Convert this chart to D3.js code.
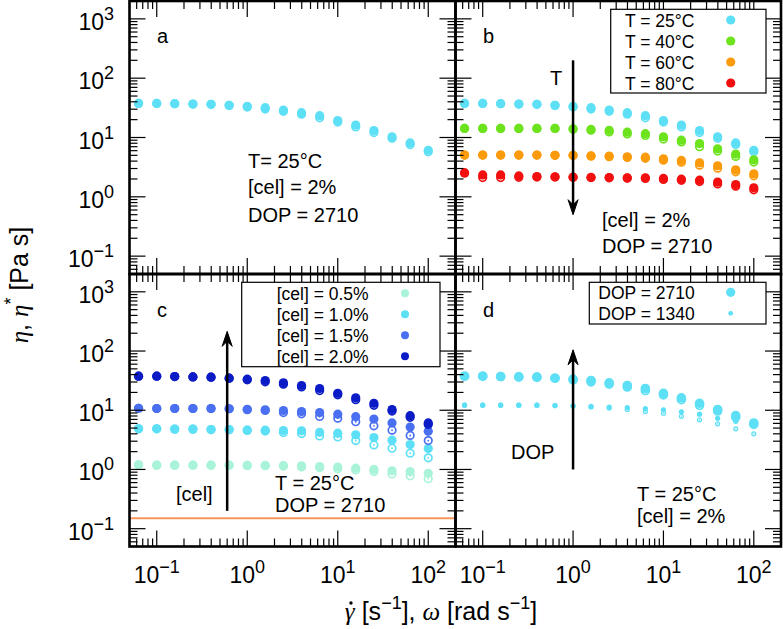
<!DOCTYPE html>
<html><head><meta charset="utf-8">
<script src="https://cdn.jsdelivr.net/npm/d3@7"></script>
<style>
body{margin:0;background:#fff}
text{font-family:"Liberation Sans",Arial,Helvetica,sans-serif;fill:#000}
.gk{font-family:"Liberation Serif","DejaVu Serif",serif;font-style:italic}
</style>
</head><body><svg id="chart" width="783" height="629"></svg>
<script>
// ---------- data ----------
const shearRate = [0.063, 0.1, 0.158, 0.251, 0.398, 0.631, 1, 1.58, 2.51, 3.98, 6.31, 10, 15.8, 25.1, 39.8, 63.1, 100];

// reference sample: T = 25 °C, [cel] = 2 %, DOP = 2710
const eta25     = [37.6, 37.6, 37.1, 36.6, 36.2, 34.8, 33.5, 31.8, 29.0, 26.2, 23.3, 19.3, 16.2, 13.1, 10.3, 8.1, 6.1];
const etaStar25 = [37.6, 37.6, 37.1, 36.6, 36.2, 34.8, 32.6, 30.2, 27.6, 24.7, 21.5, 18.2, 15.1, 12.1, 9.7, 7.6, 5.75];
const eta40     = [14.2, 14.2, 14.2, 14.2, 14.2, 14.2, 14.0, 13.7, 13.2, 12.3, 11.6, 10.3, 9.0, 7.9, 6.45, 5.25, 4.2];
const etaStar40 = [14.2, 14.2, 14.2, 14.2, 14.2, 14.2, 13.8, 13.3, 12.4, 11.5, 10.8, 9.4, 8.4, 7.0, 5.9, 4.8, 3.85];
const eta60     = [5.05, 5.05, 5.05, 5.05, 5.05, 5.0, 5.0, 4.92, 4.86, 4.72, 4.66, 4.37, 4.10, 3.74, 3.33, 2.85, 2.44];
const etaStar60 = [5.05, 5.05, 5.05, 5.05, 5.05, 5.0, 4.95, 4.85, 4.75, 4.6, 4.45, 4.15, 3.84, 3.42, 3.04, 2.64, 2.26];
const eta80     = [2.53, 2.34, 2.34, 2.25, 2.2, 2.18, 2.14, 2.12, 2.11, 2.09, 2.09, 2.04, 1.98, 1.91, 1.77, 1.61, 1.42];
const etaStar80 = [2.53, 2.11, 2.11, 2.13, 2.15, 2.15, 2.13, 2.11, 2.09, 2.06, 2.04, 1.96, 1.9, 1.81, 1.65, 1.51, 1.31];

const etaCel05     = [1.2, 1.18, 1.18, 1.18, 1.18, 1.18, 1.17, 1.17, 1.16, 1.15, 1.12, 1.1, 1.05, 1.0, 0.95, 0.92, 0.86];
const etaStarCel05 = [1.2, 1.18, 1.18, 1.18, 1.18, 1.18, 1.17, 1.16, 1.14, 1.1, 1.07, 1.03, 0.98, 0.92, 0.84, 0.78, 0.70];
const etaCel10     = [4.85, 4.85, 4.8, 4.8, 4.72, 4.72, 4.65, 4.6, 4.55, 4.5, 4.25, 4.1, 3.84, 3.45, 3.12, 2.63, 2.25];
const etaStarCel10 = [4.85, 4.85, 4.8, 4.8, 4.72, 4.7, 4.55, 4.45, 4.2, 4.04, 3.69, 3.55, 3.07, 2.6, 2.28, 1.88, 1.57];
const etaCel15     = [10.8, 10.7, 10.7, 10.7, 10.7, 10.6, 10.4, 10.2, 9.9, 9.5, 9.15, 8.6, 7.8, 7.1, 6.1, 5.2, 4.4];
const etaStarCel15 = [10.8, 10.7, 10.7, 10.7, 10.7, 10.6, 10.2, 9.9, 9.15, 8.7, 7.85, 7.35, 6.4, 5.45, 4.6, 3.75, 3.07];

const etaDop1340     = [12.2, 12.2, 12.2, 12.2, 12.2, 12.0, 11.9, 11.6, 11.3, 11.1, 10.7, 10.2, 9.4, 8.6, 7.3, 6.5, 5.6];
const etaStarDop1340 = [12.2, 12.2, 12.2, 12.2, 12.2, 12.0, 11.8, 11.4, 10.9, 10.3, 9.5, 8.9, 7.9, 6.9, 5.9, 4.85, 4.0];

const solventLine = 0.15;

const tempLabels = ["T = 25°C", "T = 40°C", "T = 60°C", "T = 80°C"];
const celLabels  = ["[cel] = 0.5%", "[cel] = 1.0%", "[cel] = 1.5%", "[cel] = 2.0%"];
const dopLabels  = ["DOP = 2710", "DOP = 1340"];
const decadeExponents = ["−1", "0", "1", "2", "3"];
const xTickValues = [0.1, 1, 10, 100];
const yTickValues = [1000, 100, 10, 1, 0.1];

// ---------- styling ----------
const C = {cyan:"#5de0f6", green:"#6ce31c", orange:"#fb9b0b", red:"#f10f0f",
           mint:"#a9f3d9", blue:"#4a6ff0", navy:"#0b1cc6", sol:"#f7965c"};

const svg = d3.select("#chart");
const panels = {
  a:{x0:129.5, x1:455.5, y0:1,   y1:274},
  b:{x0:455.5, x1:781,   y0:1,   y1:274},
  c:{x0:129.5, x1:455.5, y0:274, y1:546.5},
  d:{x0:455.5, x1:781,   y0:274, y1:546.5}
};
const xDomain = [0.05, 200], yDomain = [0.05, 2000];
function mk(p){
  return {x:d3.scaleLog().domain(xDomain).range([p.x0,p.x1]),
          y:d3.scaleLog().domain(yDomain).range([p.y1,p.y0])};
}
const S = {}; for (const k in panels) S[k] = mk(panels[k]);
const isMajor = t => Math.abs(Math.log10(t) - Math.round(Math.log10(t))) < 1e-6;

function drawFrameTicks(p, sc){
  const g = svg.append("g");
  sc.x.ticks().forEach(t=>{
    const L = isMajor(t)?16:8, X = sc.x(t);
    g.append("line").attr("x1",X).attr("x2",X).attr("y1",p.y1).attr("y2",p.y1-L);
    g.append("line").attr("x1",X).attr("x2",X).attr("y1",p.y0).attr("y2",p.y0+L);
  });
  sc.y.ticks().forEach(t=>{
    const L = isMajor(t)?16:8, Y = sc.y(t);
    g.append("line").attr("y1",Y).attr("y2",Y).attr("x1",p.x0).attr("x2",p.x0+L);
    g.append("line").attr("y1",Y).attr("y2",Y).attr("x1",p.x1).attr("x2",p.x1-L);
  });
  g.selectAll("line").attr("stroke","#000").attr("stroke-width",1.2);
}

function drawSeries(sc, eta, etaStar, color, r, sw){
  const g = svg.append("g");
  g.selectAll(".ring").data(etaStar).join("circle")
    .attr("cx",(d,i)=>sc.x(shearRate[i])).attr("cy",d=>sc.y(d))
    .attr("r",r-sw/2).attr("fill","none").attr("stroke",color).attr("stroke-width",sw);
  g.selectAll(".dot").data(etaStar).join("circle")
    .attr("cx",(d,i)=>sc.x(shearRate[i])).attr("cy",d=>sc.y(d))
    .attr("r",Math.max(0.7,r*0.2)).attr("fill",color);
  g.selectAll(".fill").data(eta).join("circle")
    .attr("cx",(d,i)=>sc.x(shearRate[i])).attr("cy",d=>sc.y(d))
    .attr("r",r).attr("fill",color);
}

function arrow(sc, xv, fromV, toV){
  const X = sc.x(xv), Y0 = sc.y(fromV), Y1 = sc.y(toV);
  const dir = Y1 > Y0 ? 1 : -1;
  svg.append("line").attr("x1",X).attr("x2",X).attr("y1",Y0).attr("y2",Y1-dir*6)
    .attr("stroke","#000").attr("stroke-width",2.5);
  svg.append("path")
    .attr("d",`M${X},${Y1} L${X-5},${Y1-dir*15} L${X},${Y1-dir*10} L${X+5},${Y1-dir*15} Z`)
    .attr("fill","#000").attr("stroke","#000").attr("stroke-width",1);
}

function txt(x,y,s,size){
  svg.append("text").attr("x",x).attr("y",y).attr("font-size",size||20).text(s);
}

function legend(x0,y0,w,h,tx,mx,rows,labels,colors,radii){
  svg.append("rect").attr("x",x0).attr("y",y0).attr("width",w).attr("height",h)
    .attr("fill","#fff").attr("stroke","#000").attr("stroke-width",1.2);
  labels.forEach((l,i)=>{
    svg.append("text").attr("x",tx).attr("y",rows[i]+6.5).attr("font-size",17.5).text(l);
    svg.append("circle").attr("cx",mx).attr("cy",rows[i]).attr("r",radii[i]).attr("fill",colors[i]);
  });
}

// solvent line (under everything in panel c)
svg.append("line").attr("x1",panels.c.x0).attr("x2",panels.c.x1)
  .attr("y1",S.c.y(solventLine)).attr("y2",S.c.y(solventLine))
  .attr("stroke",C.sol).attr("stroke-width",2.2);

// ---------- data marks ----------
drawSeries(S.a, eta25, etaStar25, C.cyan, 4.6, 1.7);

drawSeries(S.b, eta25, etaStar25, C.cyan, 4.6, 1.7);
drawSeries(S.b, eta40, etaStar40, C.green, 4.6, 1.7);
drawSeries(S.b, eta60, etaStar60, C.orange, 4.6, 1.7);
drawSeries(S.b, eta80, etaStar80, C.red, 4.6, 1.7);

drawSeries(S.c, etaCel05, etaStarCel05, C.mint, 4.6, 1.7);
drawSeries(S.c, etaCel10, etaStarCel10, C.cyan, 4.6, 1.7);
drawSeries(S.c, etaCel15, etaStarCel15, C.blue, 4.6, 1.7);
drawSeries(S.c, eta25, etaStar25, C.navy, 4.6, 1.7);

drawSeries(S.d, eta25, etaStar25, C.cyan, 4.8, 1.7);
drawSeries(S.d, etaDop1340, etaStarDop1340, C.cyan, 2.6, 1.2);

// ---------- arrows ----------
arrow(S.b, 1, 200, 0.5);
arrow(S.c, 0.6, 0.2, 215);
arrow(S.d, 1, 1, 105);

// ---------- frames & ticks ----------
for (const k in panels){
  const p = panels[k];
  drawFrameTicks(p, S[k]);
}
for (const k in panels){
  const p = panels[k];
  svg.append("rect").attr("x",p.x0).attr("y",p.y0).attr("width",p.x1-p.x0).attr("height",p.y1-p.y0)
    .attr("fill","none").attr("stroke","#000").attr("stroke-width",2.6);
}

// ---------- legends ----------
legend(610.7, 9.3, 155.3, 83.7, 625, 730.7, [20,41,62,83], tempLabels,
       [C.cyan,C.green,C.orange,C.red],[4.6,4.6,4.6,4.6]);
legend(241.7, 282.3, 198.3, 84.4, 276.7, 405, [293.3,314.3,335.3,356.3], celLabels,
       [C.mint,C.cyan,C.blue,C.navy],[4,4,4,4]);
legend(589.3, 282.3, 176.7, 41.7, 598.3, 730.7, [292.3,313.3], dopLabels,
       [C.cyan,C.cyan],[4.6,2.4]);

// ---------- annotations ----------
txt(157, 43, "a"); txt(483, 43, "b"); txt(157, 317, "c"); txt(483, 317, "d");
txt(248, 168, "T= 25°C"); txt(248, 194, "[cel] = 2%"); txt(248, 222, "DOP = 2710");
txt(550, 85, "T"); txt(602, 227, "[cel] = 2%"); txt(602, 253, "DOP = 2710");
txt(176, 501, "[cel]"); txt(275, 490, "T = 25°C"); txt(275, 512, "DOP = 2710");
txt(511, 459, "DOP"); txt(637, 501, "T = 25°C"); txt(637, 523, "[cel] = 2%");

// ---------- tick labels ----------
function powLabel(x, y, exp, anchor){
  const t = svg.append("text").attr("x",x).attr("y",y).attr("text-anchor",anchor).attr("font-size",23);
  t.append("tspan").text("10");
  t.append("tspan").attr("font-size",18).attr("dy",-10).text(exp);
}
["a","c"].forEach(k=>{
  yTickValues.forEach(v=>{
    powLabel(114, S[k].y(v)+11, decadeExponents[Math.round(Math.log10(v))+1], "end");
  });
});
["c","d"].forEach(k=>{
  xTickValues.forEach(v=>{
    powLabel(S[k].x(v), 583, decadeExponents[Math.round(Math.log10(v))+1], "middle");
  });
});

// ---------- axis titles ----------
const yl = svg.append("text").attr("transform","translate(28,285) rotate(-90)")
  .attr("text-anchor","middle").attr("font-size",25);
yl.append("tspan").attr("class","gk").text("η");
yl.append("tspan").text(", ");
yl.append("tspan").attr("class","gk").text("η");
yl.append("tspan").attr("font-size",18).attr("dy",-11).text("*");
yl.append("tspan").attr("dy",11).text(" [Pa s]");

const xl = svg.append("text").attr("x",441).attr("y",620).attr("text-anchor","middle").attr("font-size",25);
xl.append("tspan").attr("class","gk").text("γ");
xl.append("tspan").text(" [s");
xl.append("tspan").attr("font-size",18).attr("dy",-11).text("−1");
xl.append("tspan").attr("dy",11).text("], ");
xl.append("tspan").attr("class","gk").text("ω");
xl.append("tspan").text(" [rad s");
xl.append("tspan").attr("font-size",18).attr("dy",-11).text("−1");
xl.append("tspan").attr("dy",11).text("]");
// overdot on gamma
const ext = xl.node().getExtentOfChar(0);
svg.append("circle").attr("cx", ext.x + ext.width*0.62).attr("cy", 603).attr("r", 1.7).attr("fill","#000");
</script>
</body></html>
